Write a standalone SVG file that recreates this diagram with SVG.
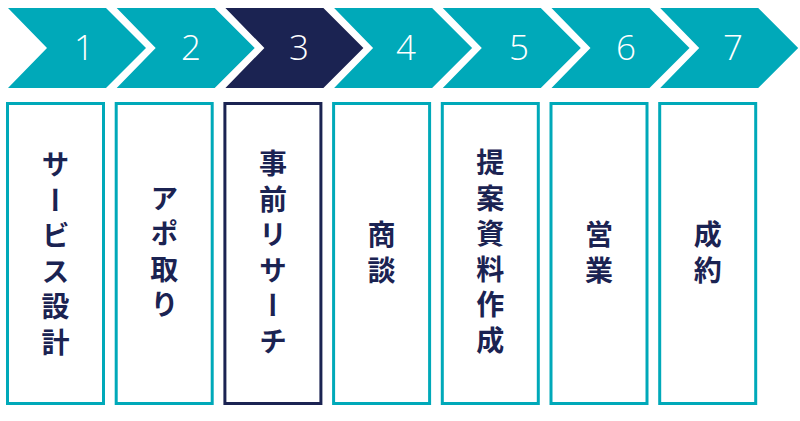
<svg xmlns="http://www.w3.org/2000/svg" width="800" height="421" viewBox="0 0 800 421">
<style>
.chev{fill:#00A9B9}
.chev.on{fill:#1B2352}
.num{font-family:"Open Sans","Liberation Sans",sans-serif;font-size:35px;fill:#FFFFFF;text-anchor:middle;font-weight:300}
.box{fill:#FFFFFF;stroke:#00A9B9;stroke-width:3}
.box.on{stroke:#1B2352}
.lbl{font-family:"Noto Sans CJK JP","Noto Sans",sans-serif;font-size:28px;font-weight:bold;fill:#1B2352;writing-mode:vertical-rl;text-anchor:middle;letter-spacing:7.5px}
</style>
<defs>
<path id="chev" d="M0,8 H98 L138,48 L98,88 H0 L39,48 Z"/>
</defs>
<rect width="800" height="421" fill="#FFFFFF"/>
<g id="step1"><use href="#chev" x="8" class="chev"/><text class="num" x="84" y="60">1</text><rect class="box" x="7.5" y="103.5" width="96" height="300"/><text class="lbl" x="55.5" y="257">サービス設計</text></g>
<g id="step2"><use href="#chev" x="116.7" class="chev"/><text class="num" x="191" y="60">2</text><rect class="box" x="116.2" y="103.5" width="96" height="300"/><text class="lbl" x="164.2" y="255">アポ取り</text></g>
<g id="step3"><use href="#chev" x="225.4" class="chev on"/><text class="num" x="299" y="60">3</text><rect class="box on" x="224.9" y="103.5" width="96" height="300"/><text class="lbl" x="272.9" y="256">事前リサーチ</text></g>
<g id="step4"><use href="#chev" x="334.1" class="chev"/><text class="num" x="406" y="60">4</text><rect class="box" x="333.6" y="103.5" width="96" height="300"/><text class="lbl" x="381.6" y="256">商談</text></g>
<g id="step5"><use href="#chev" x="442.8" class="chev"/><text class="num" x="519" y="60">5</text><rect class="box" x="442.3" y="103.5" width="96" height="300"/><text class="lbl" x="490.3" y="255">提案資料作成</text></g>
<g id="step6"><use href="#chev" x="551.5" class="chev"/><text class="num" x="626" y="60">6</text><rect class="box" x="551" y="103.5" width="96" height="300"/><text class="lbl" x="599" y="256">営業</text></g>
<g id="step7"><use href="#chev" x="660.2" class="chev"/><text class="num" x="733" y="60">7</text><rect class="box" x="659.7" y="103.5" width="96" height="300"/><text class="lbl" x="707.7" y="256">成約</text></g>
<g id="connectors"></g>
</svg>
